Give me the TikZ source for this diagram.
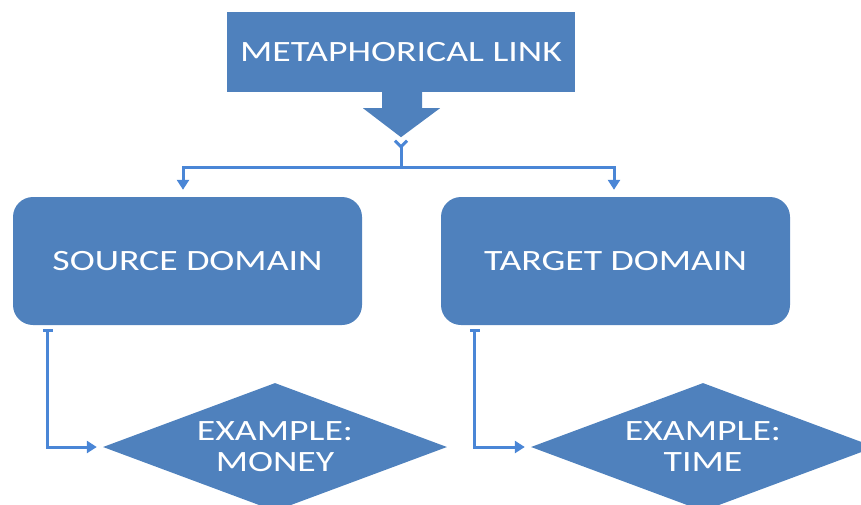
\documentclass[tikz,border=0pt]{standalone}
\usepackage{fontspec}
\setmainfont{Carlito}
\newfontfamily\boxfont[FakeStretch=1.28]{Carlito}
\usetikzlibrary{shapes.geometric,arrows.meta,calc}
\definecolor{boxblue}{HTML}{4F81BD}
\definecolor{lineblue}{HTML}{4A86D6}
\tikzset{
  boxtext/.style={text=white,font=\boxfont\fontsize{29.5}{31}\selectfont,align=center},
  linkbox/.style={boxtext,fill=boxblue,draw=none,minimum width=348pt,minimum height=80pt,inner sep=0pt},
  domainbox/.style={boxtext,fill=boxblue,draw=none,rounded corners=20pt,minimum width=349pt,minimum height=128pt,inner sep=0pt},
  exdiamond/.style={boxtext,diamond,aspect=2.7,fill=boxblue,draw=none,minimum width=344pt,minimum height=128pt,inner sep=0pt},
  conn/.style={draw=lineblue,line width=3pt},
  tipend/.style={-{Triangle[length=10pt,width=12pt]}},
}
\begin{document}
\begin{tikzpicture}[x=1pt,y=-1pt]
\clip (0,0) rectangle (861,504);
\node[linkbox] (link) at (401,52) {METAPHORICAL LINK};
\node[domainbox] (src) at (187.5,261) {SOURCE DOMAIN};
\node[domainbox] (tgt) at (615.5,261) {TARGET DOMAIN};
\node[exdiamond] (ex1) at (275,447) {EXAMPLE:\\MONEY};
\node[exdiamond] (ex2) at (703,447) {EXAMPLE:\\TIME};
% block arrow
\fill[boxblue] ($(link.south)+(-19,0)$) -- ($(link.south)+(-19,16)$) -- ($(link.south)+(-38,16)$)
  -- ($(link.south)+(0,45)$) -- ($(link.south)+(39,16)$) -- ($(link.south)+(21,16)$) -- ($(link.south)+(21,0)$) -- cycle;
% Y connector
\coordinate (ytop) at ($(link.south)+(0,47)$);
\coordinate (junc) at ($(link.south)+(0,75)$);
\draw[conn,{Straight Barb[reversed,length=6pt,width=12pt]}-] (ytop) -- (junc);
\draw[conn,tipend,shorten >=7pt] (junc) -| ([xshift=-4.5pt]src.north);
\draw[conn,tipend,shorten >=7pt] (junc) -| ([xshift=-1.5pt]tgt.north);
% lower connectors
\draw[conn,{Bar[width=10pt]}-{Triangle[length=10pt,width=12pt]},shorten >=6pt] ([shift={(35,4)}]src.south west) |- (ex1.west);
\draw[conn,{Bar[width=10pt]}-{Triangle[length=10pt,width=12pt]},shorten >=6pt] ([shift={(34,4)}]tgt.south west) |- (ex2.west);
\end{tikzpicture}
\end{document}
